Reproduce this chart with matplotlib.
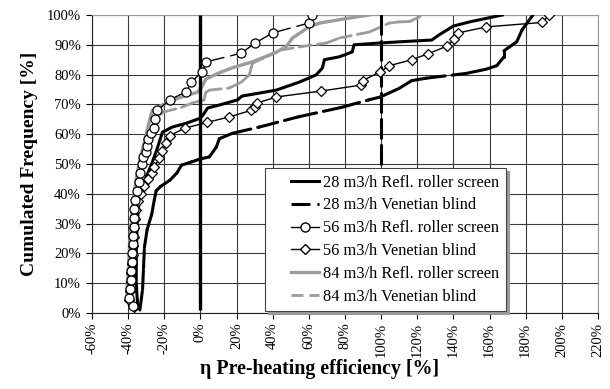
import matplotlib
matplotlib.use("Agg")
import matplotlib.pyplot as plt
from matplotlib.collections import LineCollection
from matplotlib.lines import Line2D
from matplotlib.legend_handler import HandlerLine2D
from matplotlib.ticker import MultipleLocator, FuncFormatter

# === DATA (x = pre-heating efficiency [%], y = cumulated frequency [%]) ===
LABELS = [
    "28 m3/h Refl. roller screen",
    "28 m3/h Venetian blind",
    "56 m3/h Refl. roller screen",
    "56 m3/h Venetian blind",
    "84 m3/h Refl. roller screen",
    "84 m3/h Venetian blind",
]

rrs28_x = [-34.5, -35, -35.5, -35.5, -35, -34, -32.5, -30, -27, -24, -21, -15.5, -7.7, 0,
           1.5, 4, 10.5, 20.5, 23, 32.6, 42, 54.8, 64, 67.5, 68.6, 77, 84, 85, 99, 110,
           128, 132, 140, 149, 167]
rrs28_y = [1.5, 5, 10, 20, 30, 37, 42, 45.6, 50, 55, 60.7, 62.4, 63.7, 65.4,
           66.5, 68.8, 69.8, 71.5, 72.8, 73.8, 74.8, 77.5, 79.9, 82.2, 85, 86, 87.6, 90, 90.6, 91,
           91.6, 93.3, 96.3, 97.7, 100]

vb28_x = [-33.5, -32, -31.5, -31, -29.5, -27, -25.5, -24.5, -22, -17, -13, -10.5, -5, 0,
          5, 8.8, 10.5, 17.7, 32.6, 54, 78, 93, 99.6, 110, 117, 125, 147, 158, 164,
          168, 168, 175, 178, 184]
vb28_y = [1, 8, 15, 22, 28, 33, 38, 41, 42.5, 44.5, 47, 49.6, 50.7, 51.7,
          52.4, 55.7, 58.5, 60.3, 62.4, 65.8, 69, 71.5, 72.5, 75.4, 78, 78.8, 80.4, 81.8, 83,
          86, 88, 91, 95, 100]

rrs56_x = [-37.5, -39.5, -39, -38.5, -38.5, -38, -38, -37.5, -37.5, -37, -37, -36.5, -36,
           -35, -34, -33.5, -32.5, -31.5, -30, -29.3, -28.8, -27.5, -25.5, -25, -23.8, -17,
           -7.8, -5, 1, 3.3, 22.7, 30, 40, 60, 62]
rrs56_y = [2.5, 5, 8, 11, 14, 17, 20, 23, 26, 29, 32, 35, 38,
           41, 44, 47, 50, 52.5, 54, 56, 58.5, 60.5, 62, 65, 68, 71.5,
           74.3, 77.5, 81, 84.3, 87.2, 90.5, 94, 97.3, 100]

vb56_x = [-37, -39.5, -39, -38.5, -38.5, -38, -37.5, -37.5, -37, -36.5, -36, -35.5, -34.5,
          -33, -31, -29, -27, -25.5, -22.7, -21, -19, -17, -8.8, 3.9, 16, 28, 30, 31.5, 42,
          67, 89, 90, 99.5, 104.6, 117, 126, 136.7, 140.5, 142.8, 158, 189, 193]
vb56_y = [2, 4.5, 7.5, 10.5, 13.5, 16.5, 19.5, 22.5, 25.5, 28.5, 31.5, 34.5, 37.5,
          40, 42.5, 45, 47, 49, 52, 54.5, 57, 59.5, 62, 64, 65.8, 68, 69, 70.5, 72.5,
          74.5, 76.5, 78, 81, 83, 85, 87, 89.6, 92, 94, 96, 97.5, 100]

rrs84_x = [-38.5, -40.5, -40, -39.5, -39, -38.5, -38, -37.5, -36.5, -35.5, -34, -32, -30,
           -28, -26.6, -21, -15, -8, -2, 0.5, 3, 10, 17.7, 28.8, 42, 47.6, 51, 60, 66,
           82.6, 93.5]
rrs84_y = [3, 6, 10, 15, 20, 25, 30, 35, 40, 45, 50, 55, 60,
           65, 68, 69.8, 71.5, 73, 74, 75.5, 78.5, 80.5, 82.3, 84.3, 87.5, 89.5, 92.3, 96, 97.3,
           99, 100]

vb84_x = [-39, -41, -40.5, -40, -39.5, -39, -38.5, -37.5, -36.5, -35, -33, -31, -29, -27,
          -25, -20, -10.5, -4.4, 2, 3, 5, 16, 22.7, 27, 28.8, 36.5, 44.8, 54.8, 69.7, 77,
          93.5, 104.6, 110, 115.7, 121, 122]
vb84_y = [4, 7, 11, 16, 21, 26, 31, 36, 41, 46, 50, 54, 58, 62,
          65.5, 67.5, 69, 70.5, 71.5, 74, 74.8, 75.5, 77.5, 79.9, 83.8, 86, 88.3, 89.3, 90.6, 92.3,
          94.3, 97.3, 97.7, 97.8, 99.3, 100]

# reference lines at 0% and 100% efficiency
REF_X = [0, 100]
REF_Y = [1, 100]

# === STYLE ===
plt.rcParams['font.family'] = ['Liberation Serif', 'DejaVu Serif']
GRID = "#3a3a3a"
GREY = "#9c9c9c"
LONG_DASH = (6.2, 2.3)      # in units of linewidth (thick lines)
THIN_DASH = (13.0, 5.0)
GREY_DASH = (4.3, 2.2)


def excel_dashed(ax, xs, ys, dashes, lw, color, z=3):
    # Excel restarts the dash pattern at each point -> dense parts look solid
    segs = [[(xs[i], ys[i]), (xs[i + 1], ys[i + 1])] for i in range(len(xs) - 1)]
    lc = LineCollection(segs, linestyles=[(0, dashes)], linewidths=lw,
                        colors=color, capstyle='round', zorder=z)
    ax.add_collection(lc)


class RightHandler(HandlerLine2D):
    # draw the legend sample only in the right part of the handle box
    def create_artists(self, legend, orig_handle, xdescent, ydescent, width, height,
                       fontsize, trans):
        shift = width * 0.42
        return super().create_artists(legend, orig_handle, xdescent - shift, ydescent,
                                      width - shift, height, fontsize, trans)


fig = plt.figure(figsize=(6.10, 3.89), dpi=100)
ax = fig.add_axes([0.1508, 0.1954, 0.8295, 0.766])

ax.set_xlim(-60, 220)
ax.set_ylim(0, 100)
ax.xaxis.set_major_locator(MultipleLocator(20))
ax.yaxis.set_major_locator(MultipleLocator(10))
pct = FuncFormatter(lambda v, p: f"{v:.0f}%")
ax.xaxis.set_major_formatter(pct)
ax.yaxis.set_major_formatter(pct)
ax.grid(True, color=GRID, lw=0.8, zorder=0)
ax.set_axisbelow(True)

for s in ["top", "right"]:
    ax.spines[s].set_color("#999999")
for s in ["left", "bottom"]:
    ax.spines[s].set_color("#222222")

ax.tick_params(axis='x', labelrotation=90, labelsize=10.5, length=4, width=0.8, pad=3)
ax.tick_params(axis='y', labelsize=10.5, length=4, width=0.8, pad=4)

# reference lines
ax.plot([REF_X[0], REF_X[0]], REF_Y, color="black", lw=2.4, solid_capstyle='butt', zorder=3)
excel_dashed(ax, [REF_X[1], REF_X[1]], REF_Y[::-1], LONG_DASH, 2.2, "black")

# grey series (84 m3/h)
ax.plot(rrs84_x, rrs84_y, color=GREY, lw=2.4, zorder=2)
excel_dashed(ax, vb84_x, vb84_y, GREY_DASH, 2.0, GREY, z=2)

# 28 m3/h
ax.plot(rrs28_x, rrs28_y, color="black", lw=2.2, zorder=3)
excel_dashed(ax, vb28_x, vb28_y, LONG_DASH, 2.2, "black")

# 56 m3/h
excel_dashed(ax, rrs56_x, rrs56_y, THIN_DASH, 1.0, "black", z=4)
ax.plot(rrs56_x, rrs56_y, ls='none', marker='o', ms=6.5, mfc='white', mec='black',
        mew=0.9, zorder=5)
ax.plot(vb56_x, vb56_y, color="black", lw=1.0, marker='D', ms=4.8, mfc='white',
        mec='black', mew=0.9, zorder=4)

ax.set_ylabel("Cumulated Frequency [%]", fontsize=14, fontweight='bold', labelpad=6)
ax.set_xlabel("η Pre-heating efficiency [%]", fontsize=14.3, fontweight='bold')
ax.xaxis.set_label_coords(0.45, -0.155)

handles = [
    Line2D([], [], color="black", lw=2.2),
    Line2D([], [], color="black", lw=2.2, dashes=LONG_DASH),
    Line2D([], [], color="black", lw=1.0, marker='o', ms=6.5, mfc='white', mec='black'),
    Line2D([], [], color="black", lw=1.0, marker='D', ms=4.8, mfc='white', mec='black'),
    Line2D([], [], color=GREY, lw=2.4),
    Line2D([], [], color=GREY, lw=2.0, dashes=GREY_DASH),
]
leg = ax.legend(handles, LABELS, loc='lower left', bbox_to_anchor=(0.342, 0.006),
                fontsize=11.8, handlelength=2.93, handletextpad=0.25, borderpad=0.38,
                labelspacing=0.42, borderaxespad=0, fancybox=False, framealpha=1,
                edgecolor="#444444", handler_map={Line2D: RightHandler()},
                shadow={'color': '#9a9a9a', 'alpha': 1})
leg.get_frame().set_linewidth(0.8)
leg.set_zorder(10)

fig.savefig("out.png", dpi=100)
